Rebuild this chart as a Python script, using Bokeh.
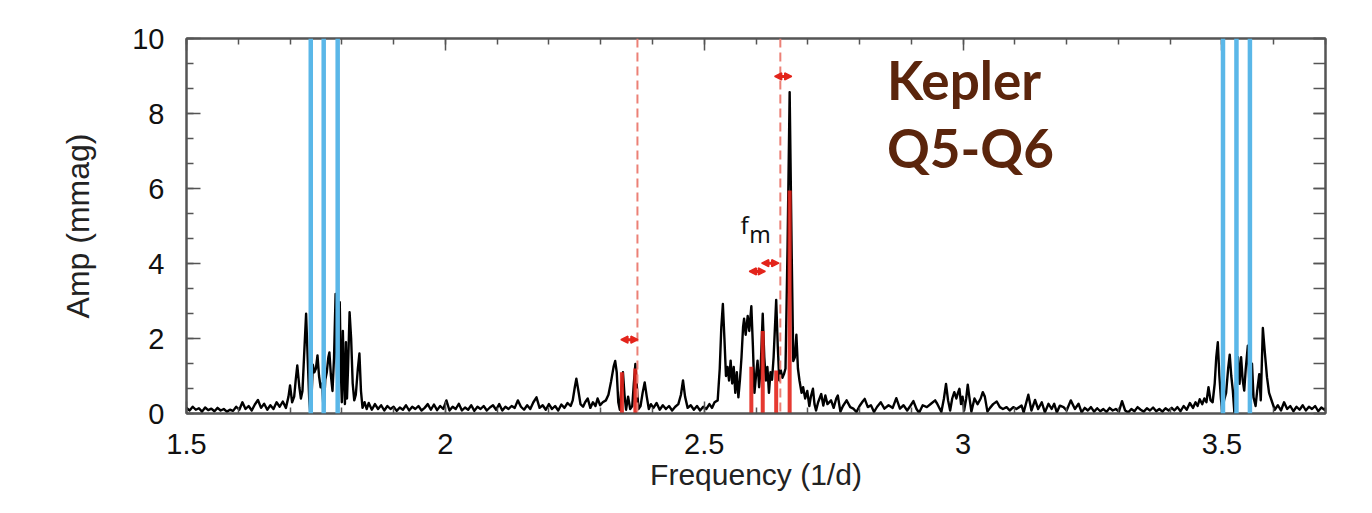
from bokeh.plotting import figure
from bokeh.models import (LinearAxis, SingleIntervalTicker, Span, Arrow, NormalHead,
                          Label, CustomJSTickFormatter, Range1d)
from bokeh.embed import file_html
from bokeh.resources import INLINE

# ---------------- data ----------------
FREQ = [
    1.500, 1.506, 1.512, 1.518, 1.524, 1.530, 1.536, 1.542, 1.548, 1.554,
    1.560, 1.566, 1.572, 1.578, 1.584, 1.590, 1.596, 1.602, 1.608, 1.614,
    1.620, 1.626, 1.632, 1.638, 1.644, 1.650, 1.656, 1.662, 1.668, 1.674,
    1.680, 1.686, 1.692,
    1.697, 1.700, 1.704, 1.708, 1.711, 1.714, 1.718, 1.721, 1.724, 1.727,
    1.731, 1.734, 1.737, 1.739, 1.742, 1.744, 1.747, 1.750, 1.753, 1.756,
    1.759, 1.762, 1.765, 1.768, 1.771, 1.774, 1.776, 1.779, 1.782, 1.785,
    1.788, 1.790, 1.792, 1.794, 1.796, 1.798, 1.800, 1.802, 1.804, 1.806,
    1.808, 1.810, 1.812, 1.815, 1.818, 1.821, 1.824, 1.827, 1.831, 1.834,
    1.837, 1.840, 1.844, 1.848,
    1.852, 1.858, 1.864, 1.870, 1.876, 1.882, 1.888, 1.894, 1.900, 1.906,
    1.912, 1.918, 1.924, 1.930, 1.936, 1.942, 1.948, 1.954, 1.960, 1.966,
    1.972, 1.978, 1.984, 1.990, 1.996, 2.002, 2.008, 2.014, 2.020, 2.026,
    2.032, 2.038, 2.044, 2.050, 2.056, 2.062, 2.068, 2.074, 2.080, 2.086,
    2.092, 2.098, 2.104, 2.110, 2.116, 2.122, 2.128, 2.134, 2.140, 2.146,
    2.152, 2.158, 2.164, 2.170, 2.176, 2.182, 2.188, 2.194, 2.200, 2.206,
    2.212, 2.218, 2.224, 2.230, 2.236, 2.242,
    2.246, 2.250, 2.253, 2.257, 2.261, 2.266, 2.270, 2.275, 2.280, 2.285,
    2.290, 2.294, 2.299, 2.304, 2.310, 2.315, 2.320, 2.325, 2.328, 2.331,
    2.334, 2.337, 2.340, 2.343, 2.346, 2.349, 2.353, 2.357, 2.361, 2.364,
    2.367, 2.370, 2.373, 2.377, 2.381, 2.385, 2.389, 2.393, 2.397, 2.402,
    2.408, 2.414, 2.420, 2.426, 2.432, 2.438, 2.444, 2.450, 2.455, 2.459,
    2.463, 2.468, 2.474, 2.480, 2.486, 2.492, 2.498, 2.504, 2.510, 2.515,
    2.520, 2.526,
    2.530, 2.533, 2.536, 2.539, 2.542, 2.545, 2.548, 2.551, 2.554, 2.557,
    2.560, 2.563, 2.566, 2.569, 2.572, 2.575, 2.577, 2.580, 2.584, 2.587,
    2.591, 2.594, 2.597, 2.600, 2.603, 2.606, 2.609, 2.613, 2.616, 2.619,
    2.622, 2.625, 2.628, 2.631, 2.634, 2.639, 2.642, 2.645, 2.648, 2.651,
    2.654, 2.657, 2.661, 2.665, 2.669, 2.672, 2.675, 2.678, 2.681, 2.684,
    2.688, 2.691, 2.695, 2.699, 2.703, 2.706, 2.710,
    2.713, 2.716, 2.720, 2.726, 2.730, 2.734, 2.738, 2.745, 2.750, 2.755,
    2.758, 2.763, 2.768, 2.775, 2.782, 2.788, 2.794, 2.800, 2.806, 2.810,
    2.816, 2.822, 2.828, 2.834, 2.841, 2.848, 2.856, 2.864, 2.871, 2.878,
    2.885, 2.892, 2.898, 2.904, 2.910, 2.915, 2.922, 2.930, 2.938, 2.946,
    2.950, 2.958, 2.963, 2.967, 2.971, 2.975, 2.979, 2.983, 2.987, 2.990,
    2.993, 2.996, 2.999, 3.002, 3.006, 3.009, 3.012, 3.016, 3.022, 3.028,
    3.034, 3.038, 3.042, 3.047, 3.052, 3.058,
    3.065, 3.071, 3.077, 3.084, 3.090, 3.097, 3.103, 3.113, 3.117, 3.126,
    3.132, 3.139, 3.145, 3.152, 3.158, 3.165, 3.171, 3.176, 3.181, 3.187,
    3.194, 3.200, 3.208, 3.216, 3.223,
    3.229, 3.235, 3.241, 3.247, 3.253, 3.259, 3.265, 3.271, 3.277, 3.283,
    3.289, 3.295, 3.301, 3.307, 3.313, 3.319, 3.325, 3.331, 3.337, 3.343,
    3.349, 3.355, 3.361, 3.367, 3.373, 3.379, 3.385, 3.391, 3.397, 3.403, 3.408,
    3.414, 3.420, 3.426, 3.432, 3.438, 3.444, 3.449, 3.453, 3.457, 3.462,
    3.466, 3.470, 3.474, 3.478, 3.482, 3.486, 3.489, 3.492, 3.495, 3.498,
    3.501, 3.504, 3.508, 3.512, 3.515, 3.518, 3.521, 3.524, 3.527, 3.531,
    3.534, 3.537, 3.540, 3.543, 3.546, 3.550, 3.553, 3.555, 3.558, 3.561,
    3.565, 3.568, 3.572, 3.575, 3.579, 3.583, 3.587, 3.591, 3.597, 3.602,
    3.608, 3.614, 3.620, 3.626, 3.632, 3.638, 3.644, 3.650, 3.656, 3.662,
    3.668, 3.674, 3.680, 3.686, 3.692, 3.698, 3.700,
]

AMP = [
    0.15, 0.08, 0.18, 0.10, 0.14, 0.05, 0.16, 0.09, 0.13, 0.06,
    0.15, 0.08, 0.12, 0.05, 0.10, 0.07, 0.18, 0.10, 0.30, 0.12,
    0.20, 0.08, 0.24, 0.36, 0.15, 0.26, 0.10, 0.22, 0.12, 0.30,
    0.18, 0.32, 0.15,
    0.45, 0.75, 0.30, 0.45, 0.90, 1.28, 0.70, 0.40, 0.60, 1.50,
    2.66, 1.50, 0.40, 0.02, 0.60, 1.30, 1.10, 1.20, 1.55, 1.00,
    0.70, 0.80, 0.02, 0.90, 1.10, 1.50, 1.63, 1.00, 0.60, 1.50,
    3.19, 1.50, 0.30, 2.10, 2.97, 1.20, 0.30, 2.20, 1.00, 0.25,
    1.90, 0.40, 1.20, 2.70, 2.00, 0.80, 0.35, 0.50, 1.20, 1.60,
    0.60, 0.15, 0.30, 0.12,
    0.28, 0.10, 0.25, 0.12, 0.22, 0.08, 0.20, 0.12, 0.18, 0.07,
    0.16, 0.10, 0.22, 0.08, 0.18, 0.12, 0.20, 0.08, 0.15, 0.25,
    0.10, 0.24, 0.09, 0.20, 0.12, 0.35, 0.08, 0.18, 0.12, 0.26,
    0.08, 0.16, 0.10, 0.22, 0.07, 0.18, 0.12, 0.20, 0.08, 0.16,
    0.22, 0.10, 0.25, 0.08, 0.18, 0.12, 0.20, 0.15, 0.35, 0.18,
    0.10, 0.22, 0.12, 0.30, 0.43, 0.15, 0.22, 0.10, 0.25, 0.12,
    0.20, 0.08, 0.24, 0.15, 0.28, 0.20,
    0.35, 0.70, 0.93, 0.60, 0.25, 0.18, 0.30, 0.40, 0.15, 0.30,
    0.20, 0.40, 0.22, 0.30, 0.35, 0.50, 0.85, 1.25, 1.40, 1.10,
    0.30, 0.10, 0.70, 1.10, 0.50, 0.10, 0.45, 0.12, 0.20, 0.80,
    1.32, 0.70, 0.12, 0.20, 0.55, 0.83, 0.45, 0.12, 0.25, 0.15,
    0.28, 0.10, 0.22, 0.12, 0.20, 0.08, 0.18, 0.25, 0.50, 0.88,
    0.45, 0.15, 0.22, 0.10, 0.20, 0.08, 0.18, 0.12, 0.25, 0.15,
    0.30, 0.35,
    1.20, 2.30, 2.92, 2.00, 1.00, 1.24, 0.88, 1.41, 0.80, 1.24,
    0.55, 1.10, 0.43, 0.90, 1.50, 2.30, 2.53, 2.10, 2.60, 2.20,
    2.86, 1.80, 0.55, 1.00, 1.41, 0.70, 1.20, 2.66, 1.50, 0.88,
    1.24, 0.55, 1.10, 0.90, 1.50, 3.03, 1.80, 0.88, 1.15, 0.95,
    1.05, 1.20, 4.50, 8.57, 4.20, 1.40, 1.50, 2.10, 1.20, 0.88,
    0.55, 0.70, 0.40, 0.60, 0.20, 0.45, 0.66,
    0.25, 0.08, 0.30, 0.52, 0.21, 0.48, 0.25, 0.35, 0.15, 0.40,
    0.48, 0.05, 0.20, 0.35, 0.17, 0.13, 0.04, 0.20, 0.32, 0.39,
    0.17, 0.22, 0.04, 0.18, 0.30, 0.13, 0.22, 0.15, 0.41, 0.13,
    0.22, 0.08, 0.20, 0.33, 0.12, 0.02, 0.22, 0.17, 0.26, 0.35,
    0.26, 0.04, 0.40, 0.79, 0.35, 0.08, 0.40, 0.57, 0.40, 0.55,
    0.66, 0.25, 0.45, 0.08, 0.40, 0.77, 0.45, 0.05, 0.40, 0.25,
    0.40, 0.57, 0.45, 0.05, 0.15, 0.25,
    0.32, 0.17, 0.12, 0.17, 0.08, 0.17, 0.12, 0.21, 0.03, 0.50,
    0.08, 0.36, 0.12, 0.30, 0.03, 0.26, 0.12, 0.26, 0.03, 0.21,
    0.17, 0.08, 0.35, 0.12, 0.26,
    0.03, 0.15, 0.08, 0.17, 0.05, 0.14, 0.06, 0.12, 0.04, 0.15,
    0.08, 0.12, 0.05, 0.33, 0.08, 0.03, 0.12, 0.06, 0.17, 0.10,
    0.05, 0.14, 0.08, 0.16, 0.06, 0.12, 0.05, 0.14, 0.08, 0.15, 0.08,
    0.17, 0.06, 0.20, 0.10, 0.28, 0.15, 0.30, 0.20, 0.38, 0.25,
    0.40, 0.30, 0.70, 0.35, 0.30, 0.80, 1.50, 1.90, 1.00, 0.40,
    0.02, 0.35, 0.55, 1.20, 1.57, 1.00, 0.61, 0.02, 0.80, 1.50,
    0.79, 1.50, 0.90, 0.61, 1.20, 1.81, 0.80, 0.02, 1.33, 0.43,
    0.20, 0.60, 1.05, 0.35, 2.28, 1.60, 0.97, 0.55, 0.30, 0.10,
    0.22, 0.08, 0.30, 0.12, 0.20, 0.06, 0.18, 0.10, 0.22, 0.08,
    0.18, 0.12, 0.20, 0.06, 0.16, 0.10, 0.14,
]

BLUE_F = [1.740, 1.765, 1.792, 3.502, 3.528, 3.554]          # blue marker lines
RED_F = [2.341, 2.367, 2.591, 2.613, 2.639, 2.665]           # red bars
RED_A = [1.10, 1.20, 1.25, 2.20, 1.15, 5.95]
DASH_F = [2.371, 2.647]                                      # dashed red lines
ARROW_F0 = [2.339, 2.587, 2.611, 2.636]                      # double arrows
ARROW_F1 = [2.372, 2.618, 2.644, 2.669]
ARROW_A = [1.97, 3.79, 4.01, 8.99]

assert len(FREQ) == len(AMP), (len(FREQ), len(AMP))

TICK_FONT = "Liberation Sans"
RED = "#e3241b"
AXIS_GREY = "#555555"

p = figure(width=1356, height=497, x_range=Range1d(1.5, 3.7), y_range=Range1d(0, 10),
           output_backend="svg", toolbar_location=None,
           min_border_left=186, min_border_right=31, min_border_top=38, min_border_bottom=84,
           x_axis_label="Frequency (1/d)", y_axis_label="Amp (mmag)")
p.xgrid.visible = False
p.ygrid.visible = False
p.outline_line_color = AXIS_GREY
p.outline_line_width = 2
p.background_fill_color = "white"
p.border_fill_color = "white"

xax = p.xaxis[0]
xax.ticker = SingleIntervalTicker(interval=0.5, num_minor_ticks=5)
xax.formatter = CustomJSTickFormatter(code="return String(Math.round(tick*10)/10);")
yax = p.yaxis[0]
yax.ticker = SingleIntervalTicker(interval=2, num_minor_ticks=3)

for ax in (xax, yax):
    ax.axis_line_color = AXIS_GREY
    ax.axis_line_width = 2
    ax.major_tick_line_color = AXIS_GREY
    ax.minor_tick_line_color = AXIS_GREY
    ax.major_tick_line_width = 1.5
    ax.minor_tick_line_width = 1.5
    ax.major_tick_out = 0
    ax.minor_tick_out = 0
    ax.major_label_text_font = TICK_FONT
    ax.major_label_text_font_size = "29px"
    ax.major_label_text_color = "#111111"
    ax.axis_label_text_font = TICK_FONT
    ax.axis_label_text_font_style = "normal"
    ax.axis_label_text_color = "#222222"

xax.axis_label_text_font_size = "30px"
yax.axis_label_text_font_size = "32px"
xax.major_tick_in = 12
xax.minor_tick_in = 6
yax.major_tick_in = 14
yax.minor_tick_in = 7
xax.major_label_standoff = 20
xax.axis_label_standoff = 1
yax.major_label_standoff = 22
yax.axis_label_standoff = 33

empty = CustomJSTickFormatter(code="return '';")
top = LinearAxis(ticker=SingleIntervalTicker(interval=0.5, num_minor_ticks=5), formatter=empty)
right = LinearAxis(ticker=SingleIntervalTicker(interval=2, num_minor_ticks=3), formatter=empty)
for ax, mj, mn in ((top, 12, 6), (right, 12, 12)):
    ax.axis_line_color = AXIS_GREY
    ax.axis_line_width = 2
    ax.major_tick_line_color = AXIS_GREY
    ax.minor_tick_line_color = AXIS_GREY
    ax.major_tick_line_width = 1.5
    ax.minor_tick_line_width = 1.5
    ax.major_tick_in = mj
    ax.minor_tick_in = mn
    ax.major_tick_out = 0
    ax.minor_tick_out = 0
    ax.major_label_standoff = 0
    ax.major_label_text_font_size = "1px"
p.add_layout(top, "above")
p.add_layout(right, "right")

# spectrum
p.line(FREQ, AMP, line_color="black", line_width=2.4, line_join="round")

# red bars at identified frequencies
p.segment(x0=RED_F, y0=[0] * len(RED_F), x1=RED_F, y1=RED_A,
          line_color=RED, line_width=4, line_alpha=0.9, line_cap="butt")

# blue lines
for f in BLUE_F:
    p.add_layout(Span(location=f, dimension="height", line_color="#5ab7e8", line_width=4.5))

# dashed red lines
for f in DASH_F:
    p.add_layout(Span(location=f, dimension="height", line_color="#ec8076",
                      line_width=2, line_dash="9 5"))

# double arrows
for x0, x1, a in zip(ARROW_F0, ARROW_F1, ARROW_A):
    p.add_layout(Arrow(x_start=x0, x_end=x1, y_start=a, y_end=a,
                       line_color=RED, line_width=3,
                       start=NormalHead(size=7, fill_color=RED, line_color=RED, line_width=1.5),
                       end=NormalHead(size=7, fill_color=RED, line_color=RED, line_width=1.5)))

# f_m label
p.add_layout(Label(x=2.570, y=5.04, text="f", text_font="Noto Sans", text_font_size="24px",
                   text_color="#111111", text_baseline="alphabetic", text_align="left"))
p.add_layout(Label(x=2.587, y=4.80, text="m", text_font="Noto Sans", text_font_size="23px",
                   text_color="#111111", text_baseline="alphabetic", text_align="left"))

# Kepler Q5-Q6 annotation
for txt, yy in (("Kepler", 8.90), ("Q5-Q6", 7.10)):
    p.add_layout(Label(x=2.853, y=yy, text=txt, text_font="Lato", text_font_style="bold",
                       text_font_size="53px", text_color="#5b250c",
                       text_baseline="alphabetic", text_align="left"))

open("out.html", "w").write(file_html(p, INLINE))
